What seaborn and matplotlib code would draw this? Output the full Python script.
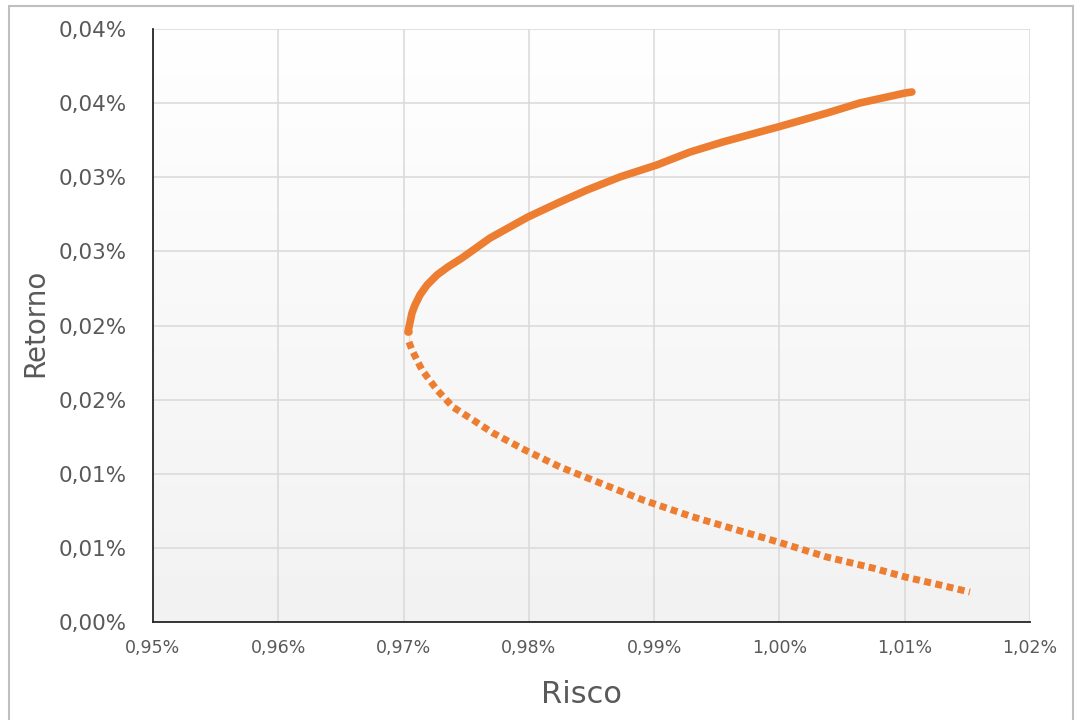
import matplotlib
matplotlib.use("Agg")
import matplotlib.pyplot as plt
from matplotlib.patches import Rectangle
from matplotlib.colors import LinearSegmentedColormap
import seaborn as sns
import numpy as np
import pandas as pd

# risco x retorno (em %)
risco_sup = [0.97043, 0.97035, 0.97043, 0.97067, 0.97091, 0.97131, 0.97187, 0.97267,
             0.97354, 0.97466, 0.97690, 0.97993, 0.98248, 0.98464, 0.98727, 0.99022,
             0.99286, 0.99549, 0.99988, 1.00379, 1.00642, 1.01002, 1.01057]
retorno_sup = [0.01889, 0.01956, 0.02024, 0.02084, 0.02138, 0.02206, 0.02273, 0.02341,
               0.02395, 0.02455, 0.02590, 0.02732, 0.02833, 0.02914, 0.03002, 0.03083,
               0.03170, 0.03238, 0.03339, 0.03433, 0.03501, 0.03568, 0.03575]

risco_inf = [0.97043, 0.97067, 0.97107, 0.97147, 0.97195, 0.97267, 0.97394, 0.97554,
             0.97713, 0.97969, 0.98248, 0.98567, 0.98911, 0.99286, 0.99661, 0.99988,
             1.00379, 1.00746, 1.01002, 1.01281, 1.01520]
retorno_inf = [0.01889, 0.01835, 0.01767, 0.01700, 0.01646, 0.01565, 0.01450, 0.01363,
               0.01275, 0.01160, 0.01046, 0.00938, 0.00823, 0.00715, 0.00621, 0.00540,
               0.00438, 0.00364, 0.00304, 0.00250, 0.00202]

xticks = [0.95, 0.96, 0.97, 0.98, 0.99, 1.00, 1.01, 1.02]
xtick_labels = ["0,95%", "0,96%", "0,97%", "0,98%", "0,99%", "1,00%", "1,01%", "1,02%"]
yticks = [0.0, 0.005, 0.01, 0.015, 0.02, 0.025, 0.03, 0.035, 0.04]
ytick_labels = ["0,00%", "0,01%", "0,01%", "0,02%", "0,02%", "0,03%", "0,03%", "0,04%", "0,04%"]

df_sup = pd.DataFrame({"Risco": risco_sup, "Retorno": retorno_sup})
df_inf = pd.DataFrame({"Risco": risco_inf, "Retorno": retorno_inf})

sns.set_style("white")
plt.rcParams["font.family"] = ["DejaVu Sans"]

laranja = "#ED7D31"
cinza_txt = "#595959"

fig = plt.figure(figsize=(10.79, 7.2), dpi=100)
ax = fig.add_axes([153/1079, 1-622/720, (1030-153)/1079, (622-29)/720])

# fundo em degrade (branco -> cinza claro)
cmap = LinearSegmentedColormap.from_list("fundo", ["#f2f2f2", "#ffffff"])
grad = np.linspace(0, 1, 256).reshape(-1, 1)
ax.imshow(grad, extent=[0, 1, 0, 1], transform=ax.transAxes, aspect="auto",
          cmap=cmap, origin="lower", zorder=0)

sns.lineplot(data=df_inf, x="Risco", y="Retorno", sort=False, ax=ax, color=laranja,
             linewidth=5, linestyle=(0, (1.0, 0.65)), zorder=3)
sns.lineplot(data=df_sup, x="Risco", y="Retorno", sort=False, ax=ax, color=laranja,
             linewidth=5.5, solid_capstyle="round", solid_joinstyle="round", zorder=4)

ax.set_xlim(0.95, 1.02)
ax.set_ylim(0, 0.04)
ax.set_xticks(xticks)
ax.set_xticklabels(xtick_labels)
ax.set_yticks(yticks)
ax.set_yticklabels(ytick_labels)

ax.grid(True, color="#d9d9d9", linewidth=1.1)
ax.set_axisbelow(True)
ax.tick_params(axis="both", length=0, colors=cinza_txt)
ax.tick_params(axis="y", labelsize=15.5, pad=19)
ax.tick_params(axis="x", labelsize=12.5, pad=12)

for s in ["top", "right"]:
    ax.spines[s].set_visible(False)
for s in ["left", "bottom"]:
    ax.spines[s].set_color("#262626")
    ax.spines[s].set_linewidth(1.3)

ax.set_xlabel("Risco", fontsize=22, color=cinza_txt)
ax.set_ylabel("Retorno", fontsize=20, color=cinza_txt)
ax.xaxis.set_label_coords(0.488, -0.098)
ax.yaxis.set_label_coords(-0.118, 0.505)

# moldura da figura
fig.patches.append(Rectangle((9/1079, -0.05), (1073-9)/1079, 1.05-6/720,
                             transform=fig.transFigure, fill=False,
                             edgecolor="#bfbfbf", linewidth=1.5, zorder=10))

fig.savefig("out.png", dpi=100)
